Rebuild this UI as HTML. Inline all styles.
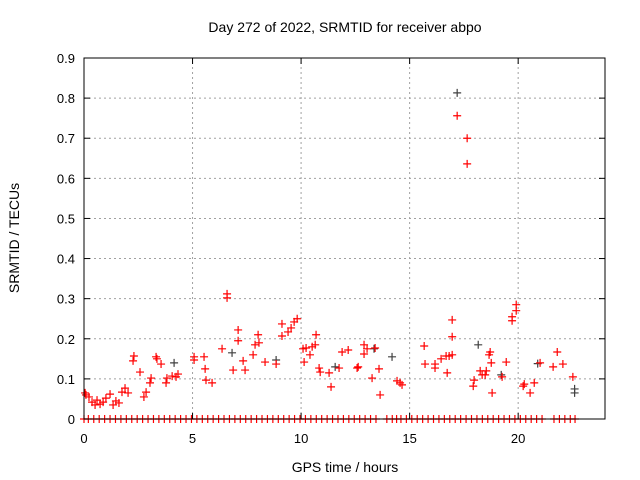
<!DOCTYPE html>
<html><head><meta charset="utf-8"><style>
body{margin:0;background:#fff}
svg{display:block;font-family:"Liberation Sans",sans-serif}
</style></head><body>
<svg id="chart" width="640" height="480">
<g id="grid"></g>
<g id="marks"></g>
<g id="axes"></g>
<text x="345" y="32" text-anchor="middle" font-size="14">Day 272 of 2022, SRMTID for receiver abpo</text>
<text x="345" y="472" text-anchor="middle" font-size="14">GPS time / hours</text>
<text transform="translate(19,238) rotate(-90)" text-anchor="middle" font-size="14">SRMTID / TECUs</text>
</svg>
<script>
const xTicks=[0,5,10,15,20];
const yTicks=[0,0.1,0.2,0.3,0.4,0.5,0.6,0.7,0.8,0.9];
const yTickLabels=["0","0.1","0.2","0.3","0.4","0.5","0.6","0.7","0.8","0.9"];
const redHours=[0.05,0.09,0.23,0.37,0.51,0.60,0.74,0.88,1.01,1.20,1.34,1.47,1.61,1.75,1.89,2.03,2.26,2.30,2.58,2.76,2.86,3.04,3.09,3.32,3.36,3.55,3.78,3.82,4.06,4.24,4.33,5.07,5.07,5.53,5.58,5.62,5.90,6.36,6.59,6.59,6.87,7.10,7.10,7.33,7.42,7.79,7.88,8.02,8.06,8.34,8.85,9.12,9.12,9.40,9.54,9.68,9.82,10.09,10.14,10.23,10.41,10.51,10.65,10.69,10.83,10.88,11.29,11.38,11.75,11.89,12.17,12.58,12.63,12.90,12.90,13.04,13.27,13.41,13.59,13.64,14.42,14.56,14.65,15.67,15.71,16.17,16.17,16.45,16.68,16.73,16.82,16.96,16.96,16.96,17.19,17.65,17.65,17.93,17.97,18.25,18.34,18.48,18.53,18.66,18.71,18.76,18.80,19.26,19.45,19.72,19.72,19.91,19.91,20.23,20.28,20.55,20.74,21.01,21.61,21.80,22.06,22.52,22.80];
const redValues=[0.065,0.060,0.055,0.042,0.035,0.047,0.037,0.042,0.052,0.062,0.035,0.045,0.040,0.067,0.077,0.065,0.145,0.157,0.117,0.055,0.067,0.090,0.102,0.155,0.150,0.137,0.090,0.102,0.107,0.105,0.112,0.155,0.147,0.155,0.125,0.097,0.090,0.175,0.312,0.302,0.122,0.222,0.195,0.145,0.122,0.160,0.185,0.210,0.190,0.142,0.137,0.237,0.207,0.217,0.227,0.242,0.250,0.175,0.142,0.177,0.160,0.180,0.185,0.210,0.127,0.117,0.115,0.080,0.127,0.167,0.172,0.127,0.130,0.185,0.162,0.175,0.102,0.177,0.125,0.060,0.095,0.090,0.085,0.182,0.137,0.137,0.127,0.150,0.157,0.115,0.157,0.247,0.205,0.160,0.756,0.700,0.636,0.082,0.097,0.120,0.110,0.110,0.120,0.160,0.167,0.140,0.065,0.105,0.142,0.245,0.255,0.270,0.285,0.082,0.087,0.065,0.090,0.140,0.130,0.167,0.137,0.105];
const grayHours=[17.19,6.82,4.15,14.19,13.36,18.16,19.22,22.60,22.60,8.85,11.57,20.9];
const grayValues=[0.813,0.165,0.140,0.155,0.175,0.185,0.110,0.075,0.065,0.147,0.130,0.138];
const zeroHours=[0.0,0.2,0.45,0.7,0.95,1.2,1.45,1.7,1.95,2.2,2.45,2.7,2.95,3.2,3.45,3.7,3.95,4.2,4.45,4.7,4.95,5.2,5.45,5.7,5.95,6.2,6.45,6.7,6.95,7.2,7.45,7.7,7.95,8.2,8.45,8.7,8.95,9.2,9.45,9.7,9.95,10.2,10.45,10.7,10.95,11.2,11.45,11.7,11.95,12.2,12.45,12.7,12.95,13.2,13.45,13.95,14.2,14.4,14.6,14.85,15.1,15.35,15.6,15.85,16.1,16.35,16.6,16.85,17.1,17.35,17.6,17.85,18.1,18.35,18.6,18.85,19.1,19.35,19.6,19.85,20.1,20.35,20.6,20.85,21.1,21.65,21.9,22.15,22.4,22.62];
const X0=84,X1=605,Y0=419,Y1=58;
const xs=h=>X0+(X1-X0)*h/24;
const ys=v=>Y0-(Y0-Y1)*v/0.9;
const NS="http://www.w3.org/2000/svg";
function mk(tag,attrs,parent){const e=document.createElementNS(NS,tag);for(const k in attrs)e.setAttribute(k,attrs[k]);parent.appendChild(e);return e;}
const grid=document.getElementById('grid'),axes=document.getElementById('axes'),marks=document.getElementById('marks');
yTicks.forEach((t,i)=>{
 if(i>0){const g=mk('line',{x1:X0,x2:X1,y1:ys(t),y2:ys(t),stroke:'#a0a0a0','stroke-dasharray':'2,3'},grid);
 
 }
 mk('line',{x1:X0,x2:X0+6,y1:ys(t),y2:ys(t),stroke:'#000'},axes);
 mk('line',{x1:X1,x2:X1-6,y1:ys(t),y2:ys(t),stroke:'#000'},axes);
 const l=mk('text',{x:X0-9,y:ys(t)+5,'text-anchor':'end','font-size':13},axes);
 l.textContent=yTickLabels[i];
 
 
});
xTicks.forEach(t=>{
 if(t>0){const g=mk('line',{x1:xs(t),x2:xs(t),y1:Y0,y2:Y1,stroke:'#a0a0a0','stroke-dasharray':'2,3'},grid);
 
 }
 mk('line',{x1:xs(t),x2:xs(t),y1:Y0,y2:Y0-6,stroke:'#000'},axes);
 mk('line',{x1:xs(t),x2:xs(t),y1:Y1,y2:Y1+6,stroke:'#000'},axes);
 const l=mk('text',{x:xs(t),y:Y0+24,'text-anchor':'middle','font-size':13},axes);
 l.textContent=String(t);
 
 
});
const fr=mk('rect',{x:X0,y:Y1,width:X1-X0,height:Y0-Y1,fill:'none',stroke:'#000'},axes);


function plus(h,v,c,name){
 const x=xs(h),y=ys(v);
 const p=mk('path',{d:`M${x-4},${y}H${x+4}M${x},${y-4}V${y+4}`,stroke:c,'stroke-width':1.2,fill:'none'},marks);
 
 
}
zeroHours.forEach(h=>plus(h,0,'#ff0000','zero-point'));
grayHours.forEach((h,i)=>plus(h,grayValues[i],'#404040','gray-point'));
redHours.forEach((h,i)=>plus(h,redValues[i],'#ff0000','red-point'));
</script>
</body></html>
